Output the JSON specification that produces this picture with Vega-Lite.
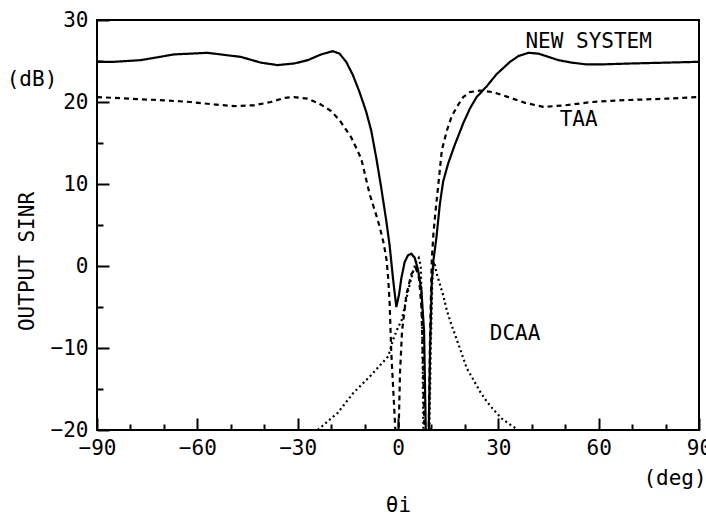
{
  "$schema": "https://vega.github.io/schema/vega-lite/v6.json",
  "width": 602,
  "height": 410,
  "autosize": "none",
  "padding": {"left": 97, "top": 20, "right": 7, "bottom": 92},
  "background": "white",
  "config": {"view": {"stroke": "black", "strokeWidth": 2}, "font": "DejaVu Sans Mono", "axis": {"labelOverlap": false}},
  "resolve": {"axis": {"x": "independent"}},
  "datasets": {
    "curves": [
      {"series": "NEW SYSTEM", "deg": -90, "db": 24.9},
      {"series": "NEW SYSTEM", "deg": -85, "db": 24.9},
      {"series": "NEW SYSTEM", "deg": -77, "db": 25.1},
      {"series": "NEW SYSTEM", "deg": -67, "db": 25.8},
      {"series": "NEW SYSTEM", "deg": -57, "db": 26.0},
      {"series": "NEW SYSTEM", "deg": -47, "db": 25.5},
      {"series": "NEW SYSTEM", "deg": -41, "db": 24.8},
      {"series": "NEW SYSTEM", "deg": -36, "db": 24.5},
      {"series": "NEW SYSTEM", "deg": -31, "db": 24.7},
      {"series": "NEW SYSTEM", "deg": -27, "db": 25.1},
      {"series": "NEW SYSTEM", "deg": -23, "db": 25.8},
      {"series": "NEW SYSTEM", "deg": -19.5, "db": 26.2},
      {"series": "NEW SYSTEM", "deg": -17.5, "db": 25.9},
      {"series": "NEW SYSTEM", "deg": -15.5, "db": 24.9},
      {"series": "NEW SYSTEM", "deg": -13.5, "db": 23.3},
      {"series": "NEW SYSTEM", "deg": -11.5, "db": 21.2},
      {"series": "NEW SYSTEM", "deg": -9.5, "db": 18.8},
      {"series": "NEW SYSTEM", "deg": -8, "db": 16.5},
      {"series": "NEW SYSTEM", "deg": -6.5, "db": 13.2},
      {"series": "NEW SYSTEM", "deg": -5, "db": 9.5},
      {"series": "NEW SYSTEM", "deg": -3.5, "db": 5.5},
      {"series": "NEW SYSTEM", "deg": -2.5, "db": 2.5},
      {"series": "NEW SYSTEM", "deg": -1.5, "db": -1.5},
      {"series": "NEW SYSTEM", "deg": -0.5, "db": -5},
      {"series": "NEW SYSTEM", "deg": 0.3, "db": -3.5},
      {"series": "NEW SYSTEM", "deg": 1, "db": -1.5},
      {"series": "NEW SYSTEM", "deg": 2, "db": 0.5},
      {"series": "NEW SYSTEM", "deg": 3, "db": 1.3},
      {"series": "NEW SYSTEM", "deg": 4, "db": 1.5},
      {"series": "NEW SYSTEM", "deg": 5, "db": 1.0},
      {"series": "NEW SYSTEM", "deg": 6, "db": -0.5},
      {"series": "NEW SYSTEM", "deg": 7, "db": -3},
      {"series": "NEW SYSTEM", "deg": 7.8, "db": -8},
      {"series": "NEW SYSTEM", "deg": 8.3, "db": -20},
      {"series": "NEW SYSTEM", "deg": 9.2, "db": -20},
      {"series": "NEW SYSTEM", "deg": 9.6, "db": -10},
      {"series": "NEW SYSTEM", "deg": 10.1, "db": -2},
      {"series": "NEW SYSTEM", "deg": 10.6, "db": 0.7},
      {"series": "NEW SYSTEM", "deg": 11.5, "db": 3.5},
      {"series": "NEW SYSTEM", "deg": 12.5, "db": 7.5},
      {"series": "NEW SYSTEM", "deg": 13.5, "db": 10.3},
      {"series": "NEW SYSTEM", "deg": 15, "db": 12.5},
      {"series": "NEW SYSTEM", "deg": 17, "db": 14.8},
      {"series": "NEW SYSTEM", "deg": 19.5, "db": 17.4},
      {"series": "NEW SYSTEM", "deg": 21.5, "db": 19.2},
      {"series": "NEW SYSTEM", "deg": 23.5, "db": 20.6},
      {"series": "NEW SYSTEM", "deg": 26.5, "db": 21.9},
      {"series": "NEW SYSTEM", "deg": 29.5, "db": 23.4},
      {"series": "NEW SYSTEM", "deg": 33.5, "db": 24.9},
      {"series": "NEW SYSTEM", "deg": 36, "db": 25.6},
      {"series": "NEW SYSTEM", "deg": 39, "db": 26.0},
      {"series": "NEW SYSTEM", "deg": 42, "db": 25.9},
      {"series": "NEW SYSTEM", "deg": 45, "db": 25.5},
      {"series": "NEW SYSTEM", "deg": 48, "db": 25.1},
      {"series": "NEW SYSTEM", "deg": 52, "db": 24.8},
      {"series": "NEW SYSTEM", "deg": 56, "db": 24.6},
      {"series": "NEW SYSTEM", "deg": 62, "db": 24.6},
      {"series": "NEW SYSTEM", "deg": 70, "db": 24.7},
      {"series": "NEW SYSTEM", "deg": 80, "db": 24.8},
      {"series": "NEW SYSTEM", "deg": 90, "db": 24.9},
      {"series": "TAA", "deg": -90, "db": 20.6},
      {"series": "TAA", "deg": -80, "db": 20.4},
      {"series": "TAA", "deg": -70, "db": 20.2},
      {"series": "TAA", "deg": -62, "db": 20.0},
      {"series": "TAA", "deg": -55, "db": 19.7},
      {"series": "TAA", "deg": -49, "db": 19.5},
      {"series": "TAA", "deg": -43, "db": 19.6},
      {"series": "TAA", "deg": -38, "db": 20.0},
      {"series": "TAA", "deg": -34, "db": 20.5},
      {"series": "TAA", "deg": -31, "db": 20.6},
      {"series": "TAA", "deg": -27, "db": 20.4},
      {"series": "TAA", "deg": -23.5, "db": 19.8},
      {"series": "TAA", "deg": -20, "db": 18.9},
      {"series": "TAA", "deg": -17.5, "db": 17.8},
      {"series": "TAA", "deg": -14, "db": 15.7},
      {"series": "TAA", "deg": -11, "db": 13.1},
      {"series": "TAA", "deg": -8.5, "db": 8.8},
      {"series": "TAA", "deg": -6.5, "db": 6.2},
      {"series": "TAA", "deg": -5.5, "db": 4.8},
      {"series": "TAA", "deg": -4.3, "db": 2.8},
      {"series": "TAA", "deg": -3.4, "db": 0.7},
      {"series": "TAA", "deg": -2.9, "db": -1.7},
      {"series": "TAA", "deg": -2.5, "db": -4.5},
      {"series": "TAA", "deg": -2, "db": -10.6},
      {"series": "TAA", "deg": -1.3, "db": -16},
      {"series": "TAA", "deg": -0.8, "db": -20},
      {"series": "TAA", "deg": 0.2, "db": -20},
      {"series": "TAA", "deg": 0.6, "db": -13},
      {"series": "TAA", "deg": 1.2, "db": -8},
      {"series": "TAA", "deg": 2.5, "db": -3.5},
      {"series": "TAA", "deg": 4, "db": -1},
      {"series": "TAA", "deg": 5.3, "db": -0.2},
      {"series": "TAA", "deg": 6.3, "db": -1.5},
      {"series": "TAA", "deg": 7.0, "db": -5},
      {"series": "TAA", "deg": 7.5, "db": -12},
      {"series": "TAA", "deg": 7.9, "db": -20},
      {"series": "TAA", "deg": 9.2, "db": -20},
      {"series": "TAA", "deg": 9.6, "db": -8},
      {"series": "TAA", "deg": 10.1, "db": 0.7},
      {"series": "TAA", "deg": 10.6, "db": 4},
      {"series": "TAA", "deg": 11.3, "db": 7},
      {"series": "TAA", "deg": 12.1, "db": 10.1},
      {"series": "TAA", "deg": 13.1, "db": 14.1},
      {"series": "TAA", "deg": 14.6, "db": 16.5},
      {"series": "TAA", "deg": 16, "db": 18.2},
      {"series": "TAA", "deg": 17.6, "db": 19.4},
      {"series": "TAA", "deg": 19.5, "db": 20.6},
      {"series": "TAA", "deg": 21.5, "db": 21.2},
      {"series": "TAA", "deg": 24.5, "db": 21.4},
      {"series": "TAA", "deg": 28.5, "db": 21.2},
      {"series": "TAA", "deg": 33, "db": 20.6},
      {"series": "TAA", "deg": 38, "db": 19.9},
      {"series": "TAA", "deg": 43.5, "db": 19.4},
      {"series": "TAA", "deg": 50, "db": 19.6},
      {"series": "TAA", "deg": 58, "db": 20.0},
      {"series": "TAA", "deg": 66, "db": 20.2},
      {"series": "TAA", "deg": 73, "db": 20.3},
      {"series": "TAA", "deg": 80, "db": 20.4},
      {"series": "TAA", "deg": 90, "db": 20.6},
      {"series": "DCAA", "deg": -24, "db": -20},
      {"series": "DCAA", "deg": -18, "db": -17.9},
      {"series": "DCAA", "deg": -13.4, "db": -15.5},
      {"series": "DCAA", "deg": -8, "db": -13.3},
      {"series": "DCAA", "deg": -2.9, "db": -11},
      {"series": "DCAA", "deg": -1.5, "db": -9},
      {"series": "DCAA", "deg": 0, "db": -7.5},
      {"series": "DCAA", "deg": 1.1, "db": -6.6},
      {"series": "DCAA", "deg": 2, "db": -5},
      {"series": "DCAA", "deg": 3.1, "db": -2.9},
      {"series": "DCAA", "deg": 4.6, "db": -0.5},
      {"series": "DCAA", "deg": 5.5, "db": 0.6},
      {"series": "DCAA", "deg": 6.2, "db": 1.0},
      {"series": "DCAA", "deg": 6.8, "db": 0},
      {"series": "DCAA", "deg": 7.2, "db": -6},
      {"series": "DCAA", "deg": 7.6, "db": -20},
      {"series": "DCAA", "deg": 9.4, "db": -20},
      {"series": "DCAA", "deg": 9.8, "db": -10},
      {"series": "DCAA", "deg": 10.3, "db": -1},
      {"series": "DCAA", "deg": 10.8, "db": 0.5},
      {"series": "DCAA", "deg": 11.5, "db": -0.8},
      {"series": "DCAA", "deg": 12.5, "db": -2.2},
      {"series": "DCAA", "deg": 13.6, "db": -3.7},
      {"series": "DCAA", "deg": 14.6, "db": -5.4},
      {"series": "DCAA", "deg": 16, "db": -7.2},
      {"series": "DCAA", "deg": 17.6, "db": -9.0},
      {"series": "DCAA", "deg": 20.6, "db": -12.5},
      {"series": "DCAA", "deg": 22.6, "db": -13.9},
      {"series": "DCAA", "deg": 24.5, "db": -15.3},
      {"series": "DCAA", "deg": 26.5, "db": -16.5},
      {"series": "DCAA", "deg": 28.5, "db": -17.5},
      {"series": "DCAA", "deg": 31, "db": -18.6},
      {"series": "DCAA", "deg": 33, "db": -19.2},
      {"series": "DCAA", "deg": 34.5, "db": -19.6},
      {"series": "DCAA", "deg": 36, "db": -20}
    ],
    "labels": [
      {"label": "NEW SYSTEM", "deg": 57, "db": 27.3},
      {"label": "TAA", "deg": 54, "db": 17.8},
      {"label": "DCAA", "deg": 35, "db": -8.3}
    ]
  },
  "layer": [
    {
      "data": {"name": "curves"},
      "mark": {"type": "line", "color": "black", "strokeWidth": 2.2, "clip": true},
      "encoding": {
        "x": {
          "field": "deg", "type": "quantitative",
          "scale": {"domain": [-90, 90], "nice": false},
          "axis": {
            "orient": "bottom",
            "values": [-90, -60, -30, 0, 30, 60, 90],
            "tickSize": -12,
            "tickColor": "black", "tickWidth": 2, "domain": false, "grid": false,
            "labelFontSize": 21, "labelColor": "black", "labelPadding": 19, "labelFlush": false,
            "labelOverlap": false, "labelBound": false,
            "title": "θi", "titleFontSize": 21, "titleFontWeight": "normal", "titleColor": "black",
            "titleY": 75, "titleBaseline": "middle"
          }
        },
        "y": {
          "field": "db", "type": "quantitative",
          "scale": {"domain": [-20, 30], "nice": false},
          "axis": {
            "values": [-20, -15, -10, -5, 0, 5, 10, 15, 20, 25, 30],
            "labelExpr": "datum.value % 10 === 0 ? datum.label : ''",
            "tickSize": {"condition": {"test": "datum.value % 10 === 0", "value": -12}, "value": -6},
            "tickColor": "black", "tickWidth": 2, "domain": false, "grid": false,
            "labelFontSize": 21, "labelColor": "black", "labelPadding": 21, "labelFlush": false,
            "labelOverlap": false, "labelBound": false,
            "title": "OUTPUT SINR", "titleFontSize": 21, "titleFontWeight": "normal", "titleColor": "black",
            "titleX": -70, "titleY": 241, "titleAngle": -90, "titleBaseline": "middle", "titleAlign": "center"
          }
        },
        "detail": {"field": "series", "type": "nominal"},
        "strokeDash": {
          "field": "series", "type": "nominal",
          "scale": {"domain": ["NEW SYSTEM", "TAA", "DCAA"], "range": [[1, 0], [5, 4], [2, 3]]},
          "legend": null
        }
      }
    },
    {
      "data": {"name": "labels"},
      "mark": {"type": "text", "fontSize": 21, "color": "black", "align": "center", "baseline": "middle"},
      "encoding": {
        "x": {"field": "deg", "type": "quantitative", "axis": null},
        "y": {"field": "db", "type": "quantitative"},
        "text": {"field": "label"}
      }
    },
    {
      "data": {"values": [{"label": "(dB)", "deg": -90, "db": 22.7}]},
      "mark": {"type": "text", "fontSize": 21, "color": "black", "align": "center", "baseline": "middle", "dx": -65},
      "encoding": {
        "x": {"field": "deg", "type": "quantitative", "axis": null},
        "y": {"field": "db", "type": "quantitative"},
        "text": {"field": "label"}
      }
    },
    {
      "data": {"values": [{"label": "(deg)", "deg": 90, "db": -20}]},
      "mark": {"type": "text", "fontSize": 21, "color": "black", "align": "center", "baseline": "middle", "dx": -24, "dy": 49},
      "encoding": {
        "x": {
          "field": "deg", "type": "quantitative",
          "axis": {
            "orient": "bottom",
            "values": [-80, -70, -50, -40, -20, -10, 10, 20, 40, 50, 70, 80],
            "labels": false, "tickSize": -6, "tickColor": "black", "tickWidth": 2,
            "domain": false, "grid": false, "title": null
          }
        },
        "y": {"field": "db", "type": "quantitative"},
        "text": {"field": "label"}
      }
    }
  ]
}
